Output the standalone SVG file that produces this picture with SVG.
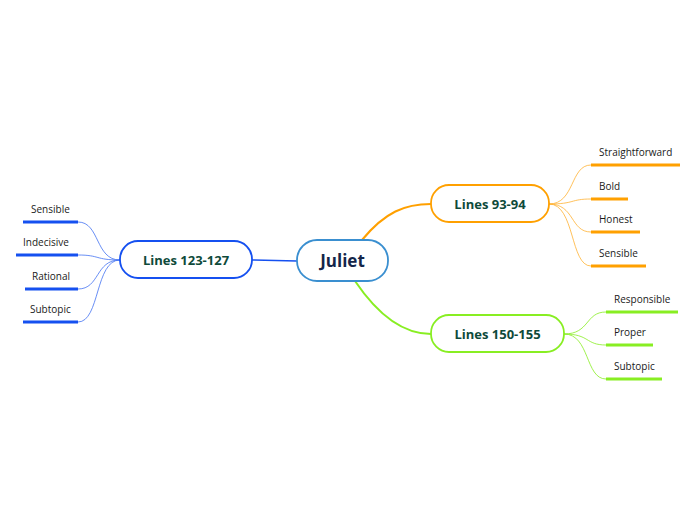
<svg xmlns="http://www.w3.org/2000/svg" width="696" height="520" viewBox="0 0 696 520">
<style>
.t{font-family:"Open Sans","Noto Sans",sans-serif;fill:#1a1a1a;font-size:10px}
.m{font-family:"Open Sans","Noto Sans",sans-serif;font-weight:bold;fill:#0e4a3a;font-size:13px;text-anchor:middle}
.c{fill:none}
</style>
<rect width="696" height="520" fill="#fff"/>
<g id="connectors" class="c">
<path d="M362,240 C385,212 405,204 431,204" stroke="#ffa000" stroke-width="2"/>
<path d="M355,281 C380,318 405,334 431,334" stroke="#88ee22" stroke-width="2"/>
<path d="M297,261 L252,260" stroke="#1550f0" stroke-width="1.5"/>
<g stroke="#ffa000" stroke-width="0.8" opacity="0.8">
<path d="M549,204 C575,204 570,165 591,165"/>
<path d="M549,204 C575,204 570,199 591,199"/>
<path d="M549,204 C575,204 570,232 591,232"/>
<path d="M549,204 C575,204 570,266 591,266"/>
</g>
<g stroke="#88ee22" stroke-width="0.8">
<path d="M564,334 C590,334 585,312 606,312"/>
<path d="M564,334 C590,334 585,345 606,345"/>
<path d="M564,334 C590,334 585,379 606,379"/>
</g>
<g stroke="#1550f0" stroke-width="0.8" opacity="0.8">
<path d="M120,260 C95,260 100,222 78,222"/>
<path d="M120,260 C95,260 100,255 78,255"/>
<path d="M120,260 C95,260 100,289 78,289"/>
<path d="M120,260 C95,260 100,322 78,322"/>
</g>
</g>
<g id="juliet">
<rect x="297" y="240" width="91" height="41" rx="20" fill="#fff" stroke="#3a8fd0" stroke-width="1.8"/>
<text x="342.5" y="267" font-family="Open Sans,Noto Sans,sans-serif" font-weight="bold" font-size="17" fill="#14264a" text-anchor="middle">Juliet</text>
</g>
<g id="lines-93-94">
<rect x="431" y="185" width="118" height="37" rx="18" fill="#fff" stroke="#ffa000" stroke-width="1.8"/>
<text class="m" x="490" y="208.5">Lines 93-94</text>
</g>
<g id="lines-150-155">
<rect x="431" y="315" width="133" height="37" rx="18" fill="#fff" stroke="#88ee22" stroke-width="1.8"/>
<text class="m" x="497.5" y="338.5">Lines 150-155</text>
</g>
<g id="lines-123-127">
<rect x="120" y="241" width="132" height="37" rx="18" fill="#fff" stroke="#1550f0" stroke-width="1.8"/>
<text class="m" x="186" y="264.5">Lines 123-127</text>
</g>
<g id="straightforward"><text class="t" x="599" y="156">Straightforward</text><line x1="591" y1="165" x2="680" y2="165" stroke="#ffa000" stroke-width="3"/></g>
<g id="bold"><text class="t" x="599" y="190">Bold</text><line x1="591" y1="199" x2="628" y2="199" stroke="#ffa000" stroke-width="3"/></g>
<g id="honest"><text class="t" x="599" y="223">Honest</text><line x1="591" y1="232" x2="640" y2="232" stroke="#ffa000" stroke-width="3"/></g>
<g id="sensible-r"><text class="t" x="599" y="257">Sensible</text><line x1="591" y1="266" x2="646" y2="266" stroke="#ffa000" stroke-width="3"/></g>
<g id="responsible"><text class="t" x="614" y="303">Responsible</text><line x1="606" y1="312" x2="678" y2="312" stroke="#88ee22" stroke-width="3"/></g>
<g id="proper"><text class="t" x="614" y="336">Proper</text><line x1="606" y1="345" x2="653" y2="345" stroke="#88ee22" stroke-width="3"/></g>
<g id="subtopic-g"><text class="t" x="614" y="370">Subtopic</text><line x1="606" y1="379" x2="662" y2="379" stroke="#88ee22" stroke-width="3"/></g>
<g id="sensible-l"><text class="t" x="31" y="213">Sensible</text><line x1="23" y1="222" x2="78" y2="222" stroke="#1550f0" stroke-width="3"/></g>
<g id="indecisive"><text class="t" x="23" y="246">Indecisive</text><line x1="16" y1="255" x2="78" y2="255" stroke="#1550f0" stroke-width="3"/></g>
<g id="rational"><text class="t" x="32" y="280">Rational</text><line x1="25" y1="289" x2="78" y2="289" stroke="#1550f0" stroke-width="3"/></g>
<g id="subtopic-b"><text class="t" x="30" y="313">Subtopic</text><line x1="23" y1="322" x2="78" y2="322" stroke="#1550f0" stroke-width="3"/></g>
</svg>
